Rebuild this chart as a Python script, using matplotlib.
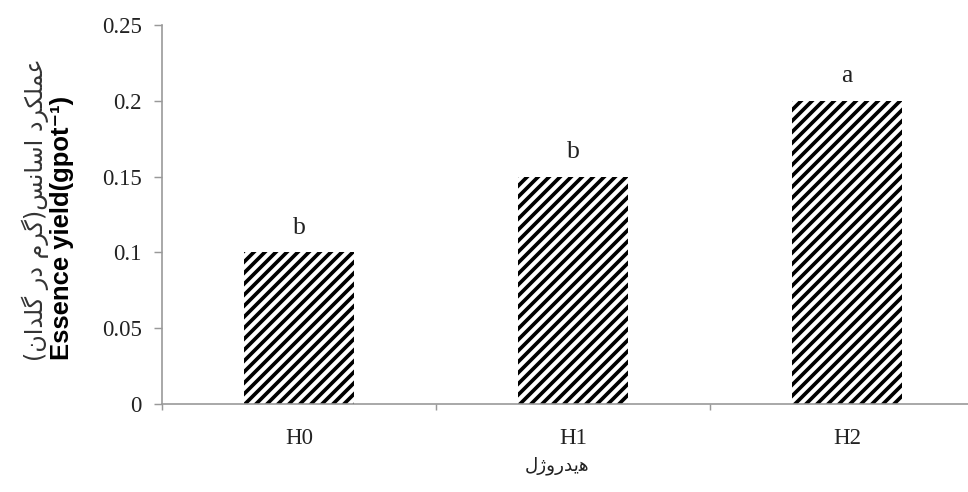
#!/usr/bin/env python3

"""
Essence yield bar chart for three hydrogel levels (H0, H1, H2)
"""

import matplotlib
matplotlib.use("Agg")
import matplotlib.pyplot as plt


DPI = 132

categories = ["H0", "H1", "H2"]
yield_values = [0.10, 0.15, 0.20]
group_letters = ["b", "b", "a"]
y_ticks = [0, 0.05, 0.1, 0.15, 0.2, 0.25]
y_tick_labels = ["0", "0.05", "0.1", "0.15", "0.2", "0.25"]

# Persian words written as Arabic presentation forms (logical order),
# matplotlib does no shaping so we pick the joined forms by hand
fa_amalkard = "\uFECB\uFEE4\uFEE0\uFB91\uFEAE\uFEA9"   # عملکرد
fa_esans = "\uFE8D\uFEB3\uFE8E\uFEE7\uFEB2"            # اسانس
fa_geram = "\uFB94\uFEAE\uFEE1"                        # گرم
fa_dar = "\uFEA9\uFEAD"                                # در
fa_goldan = "\uFB94\uFEE0\uFEAA\uFE8D\uFEE5"           # گلدان
fa_hydrogel = "\uFEEB\uFBFE\uFEAA\uFEAD\uFEED\uFB8A\uFEDD"  # هیدروژل


def visual(s):
    # reverse for left-to-right drawing and mirror the brackets
    mirror = {"(": ")", ")": "("}
    return "".join(mirror.get(c, c) for c in reversed(s))


ylabel_fa = visual(fa_amalkard + " " + fa_esans + "(" + fa_geram + " " + fa_dar + " " + fa_goldan + ")")
xlabel_fa = visual(fa_hydrogel)
ylabel_en = "Essence yield(gpot\u207B\u00B9)"

plt.rcParams["hatch.linewidth"] = 2.0
plt.rcParams["hatch.color"] = "black"

fig = plt.figure(figsize=(968 / DPI, 492 / DPI), dpi=DPI)
ax = fig.add_axes([162 / 968, 88 / 492, 822 / 968, 379 / 492])

x = list(range(len(categories)))
ax.bar(x, yield_values, width=0.40, color="white", edgecolor="black",
       linewidth=0, hatch="////")

for xi, v, letter in zip(x, yield_values, group_letters):
    ax.text(xi, v + 0.009, letter, ha="center", va="bottom",
            family="Liberation Serif", fontsize=14, color="#222222")

ax.set_xlim(-0.5, 2.5)
ax.set_ylim(0, 0.25)
ax.set_yticks(y_ticks)
ax.set_yticklabels(y_tick_labels, family="Liberation Serif", fontsize=12.5, color="#222222")
ax.set_xticks(x)
ax.set_xticklabels(categories, family="Liberation Serif", fontsize=12.5, color="#222222")
ax.set_xticks([-0.5, 0.5, 1.5, 2.5], minor=True)

gray = "#999999"
for side in ["top", "right"]:
    ax.spines[side].set_visible(False)
for side in ["left", "bottom"]:
    ax.spines[side].set_color(gray)
    ax.spines[side].set_linewidth(0.9)

ax.tick_params(axis="y", which="major", length=4.5, width=0.8, color=gray, pad=6.5)
ax.tick_params(axis="x", which="major", length=0, pad=13)
ax.tick_params(axis="x", which="minor", length=3.5, width=0.8, color=gray)

fig.text(557 / 968, 1 - 466 / 492, xlabel_fa,
         ha="center", va="center", family="DejaVu Sans", fontsize=10, color="#222222")
fig.text(62 / 968, 1 - 228 / 492, ylabel_en, rotation=90, ha="center", va="center",
         family=["Liberation Sans", "DejaVu Sans"], fontweight="bold", fontsize=14)
fig.text(35 / 968, 1 - 210 / 492, ylabel_fa, rotation=90, ha="center", va="center",
         family="DejaVu Sans", fontsize=13, color="#333333")

fig.savefig("out.png", dpi=DPI)
